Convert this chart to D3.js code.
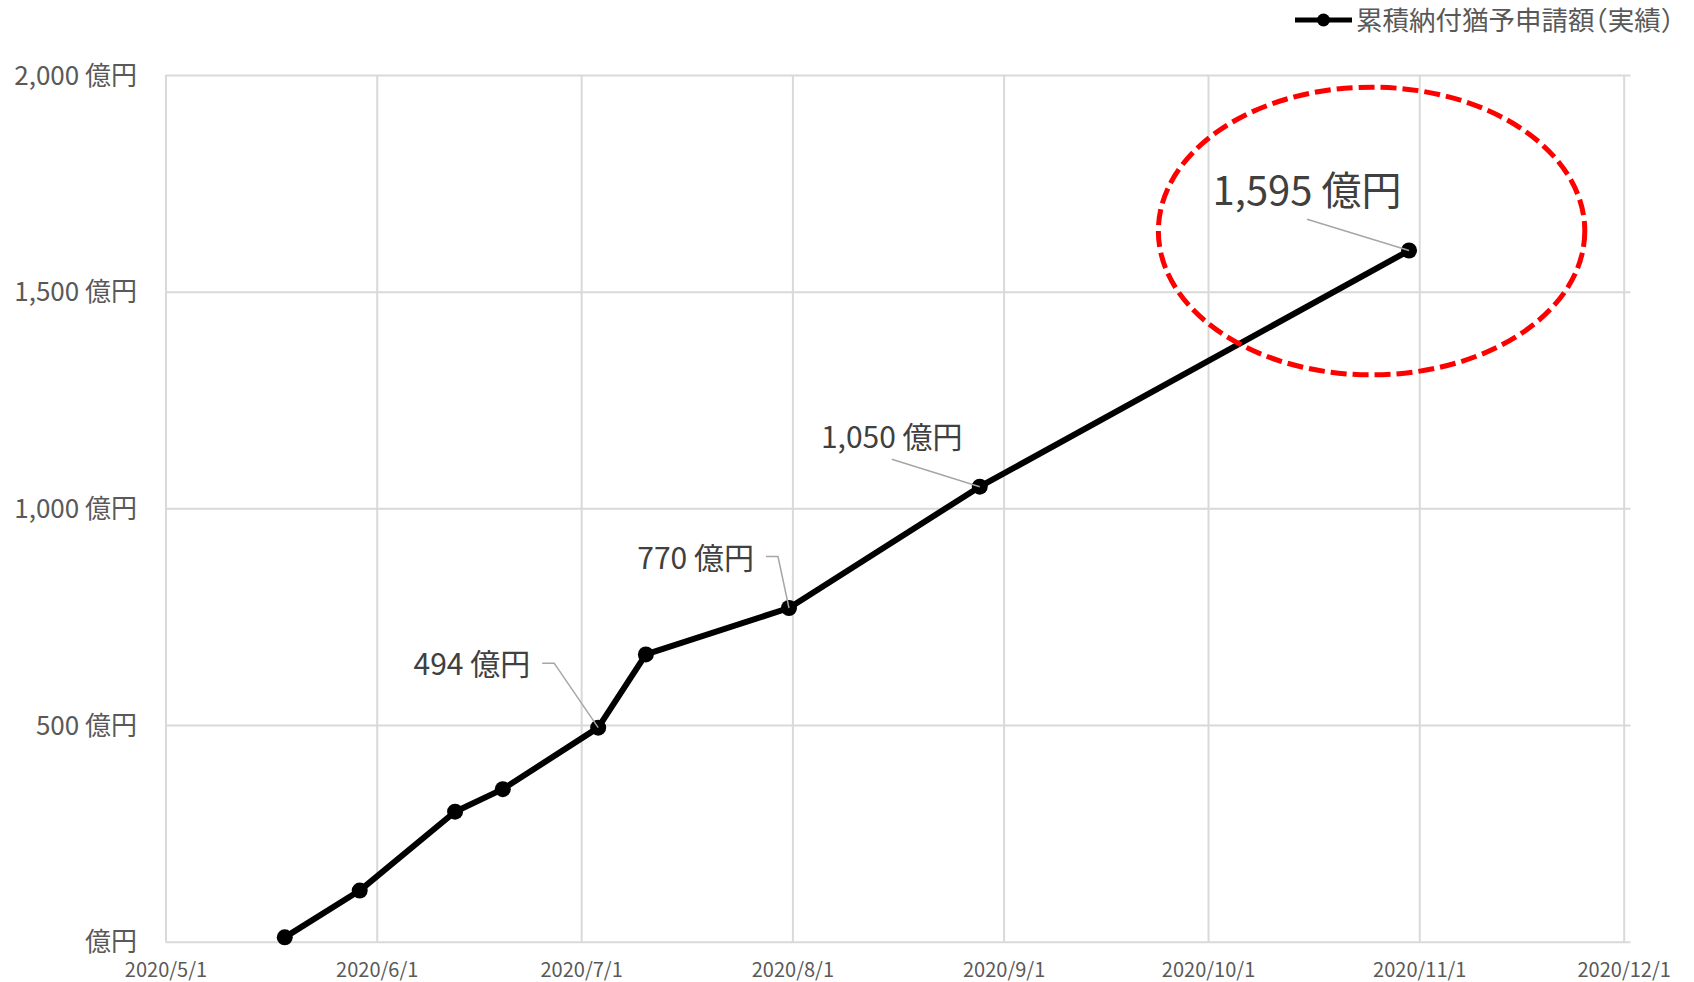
<!DOCTYPE html>
<html>
<head>
<meta charset="utf-8">
<script src="https://cdn.jsdelivr.net/npm/d3@7"></script>
<style>
  html, body { margin: 0; padding: 0; background: #fff; }
  svg { display: block; font-family: "Noto Sans CJK JP", "Noto Sans", sans-serif; }
</style>
</head>
<body>
<svg id="chart" width="1694" height="982"></svg>
<script>
// Cumulative deferral applications (actual), in 億円
const seriesName = "累積納付猶予申請額（実績）";
const dates  = ["2020-05-18", "2020-05-29", "2020-06-12", "2020-06-19", "2020-07-03",
                "2020-07-10", "2020-07-31", "2020-08-28", "2020-10-30"];
const values = [10, 118, 300, 352, 494, 663, 770, 1050, 1595];

// Axis ticks
const yTicks = [0, 500, 1000, 1500, 2000];
const xStart = "2020-05-01";
const xEnd   = "2020-12-01";

// Points that carry a value callout
const calloutDates = ["2020-07-03", "2020-07-31", "2020-08-28", "2020-10-30"];

const parse = d3.utcParse("%Y-%m-%d");
const data = dates.map((d, i) => ({ date: parse(d), value: values[i] }));

const svg = d3.select("#chart");
const plot = { left: 165.5, top: 75, bottom: 941.7 };

// Date axis: each day occupies one slot, points sit in the middle of their day
const x = d3.scaleUtc()
  .domain([parse(xStart), d3.utcDay.offset(parse(xEnd), 1)])
  .range([plot.left, 1630.5]);
const y = d3.scaleLinear().domain([0, 2000]).range([plot.bottom, plot.top]);
const px = d => x(d3.utcHour.offset(d, 12));

const monthTicks = d3.utcMonth.range(parse(xStart), d3.utcDay.offset(parse(xEnd), 1));
const fmtDate = d3.utcFormat("%Y/%-m/%-d");
const fmtNum = d3.format(",");
const yLabel = v => v === 0 ? "億円" : fmtNum(v) + " 億円";

const grid = "#d9d9d9";

// Horizontal gridlines
svg.append("g")
  .attr("transform", `translate(${plot.left},0)`)
  .call(d3.axisLeft(y).tickValues(yTicks).tickSize(-(x.range()[1] - plot.left)).tickFormat(""))
  .call(g => g.select(".domain").remove())
  .call(g => g.selectAll(".tick line").attr("stroke", grid).attr("stroke-width", 2));

// Vertical gridlines at month starts
svg.append("g")
  .attr("transform", `translate(0,${plot.bottom})`)
  .call(d3.axisBottom(x).tickValues(monthTicks).tickSize(-(plot.bottom - plot.top)).tickFormat(""))
  .call(g => g.select(".domain").remove())
  .call(g => g.selectAll(".tick line").attr("stroke", grid).attr("stroke-width", 2));

// Y tick labels
svg.append("g")
  .attr("transform", "translate(137,0)")
  .call(d3.axisLeft(y).tickValues(yTicks).tickSize(0).tickPadding(0).tickFormat(yLabel))
  .call(g => g.select(".domain").remove())
  .call(g => g.selectAll("text")
    .attr("fill", "#595959")
    .attr("font-size", 26)
    .attr("font-family", '"Noto Sans CJK JP", sans-serif')
    .attr("dy", "0.35em"));

// X tick labels
svg.append("g")
  .attr("transform", `translate(0,${plot.bottom})`)
  .call(d3.axisBottom(x).tickValues(monthTicks).tickSize(0).tickPadding(0).tickFormat(fmtDate))
  .call(g => g.select(".domain").remove())
  .call(g => g.selectAll("text")
    .attr("fill", "#595959")
    .attr("font-size", 20)
    .attr("font-family", '"Noto Sans CJK JP", sans-serif')
    .attr("y", 0)
    .attr("dy", 0)
    .attr("transform", "translate(0,35)"));

// Series line and markers
const line = d3.line().x(d => px(d.date)).y(d => y(d.value));
svg.append("path")
  .datum(data)
  .attr("d", line)
  .attr("fill", "none")
  .attr("stroke", "#000")
  .attr("stroke-width", 6)
  .attr("stroke-linejoin", "round");

svg.append("g")
  .selectAll("circle")
  .data(data)
  .join("circle")
  .attr("cx", d => px(d.date))
  .attr("cy", d => y(d.value))
  .attr("r", 8)
  .attr("fill", "#000");

// Value callouts with leader lines
const callouts = [
  { dx: -68, dy: -63, size: 30, anchor: "end",    leader: "side" },
  { dx: -35, dy: -50, size: 30, anchor: "end",    leader: "side" },
  { dx: -88, dy: -49, size: 30, anchor: "middle", leader: "below" },
  { dx: -102, dy: -60, size: 40, anchor: "middle", leader: "below" }
];
const calloutLayer = svg.append("g");
calloutDates.forEach((ds, i) => {
  const d = data.find(p => +p.date === +parse(ds));
  const c = callouts[i];
  const cx = px(d.date), cy = y(d.value);
  const lx = cx + c.dx, ly = cy + c.dy;
  let pts;
  if (c.leader === "side") {
    pts = [[lx + 12, ly - 1.5], [lx + 24, ly - 1.5], [cx, cy]];
  } else {
    pts = [[lx, ly + c.size * 0.72], [cx, cy]];
  }
  calloutLayer.append("path")
    .attr("d", d3.line()(pts))
    .attr("fill", "none")
    .attr("stroke", "#a6a6a6")
    .attr("stroke-width", 1.5);
  calloutLayer.append("text")
    .attr("x", lx)
    .attr("y", ly)
    .attr("dy", "0.35em")
    .attr("text-anchor", c.anchor)
    .attr("font-size", c.size)
    .attr("fill", "#404040")
    .text(fmtNum(d.value) + " 億円");
});

// Highlight ring around the latest figure
const ring = { date: "2020-10-25", value: 1640, days: 31.3, span: 332 };
const rc = parse(ring.date);
svg.append("ellipse")
  .attr("cx", x(rc))
  .attr("cy", y(ring.value))
  .attr("rx", x(d3.utcHour.offset(rc, ring.days * 24)) - x(rc))
  .attr("ry", y(0) - y(ring.span))
  .attr("fill", "none")
  .attr("stroke", "#ff0000")
  .attr("stroke-width", 5)
  .attr("stroke-dasharray", "16 6");

// Legend
const legend = svg.append("g").attr("transform", "translate(1295,20)");
legend.append("line").attr("x1", 0).attr("x2", 57).attr("y1", 0).attr("y2", 0)
  .attr("stroke", "#000").attr("stroke-width", 5);
legend.append("circle").attr("cx", 28.5).attr("cy", 0).attr("r", 6.5).attr("fill", "#000");
legend.append("text").attr("x", 61).attr("y", 0).attr("dy", "0.36em")
  .attr("font-size", 26.5).attr("fill", "#595959")
  .style("font-feature-settings", '"halt" 1')
  .text(seriesName);
</script>
</body>
</html>
